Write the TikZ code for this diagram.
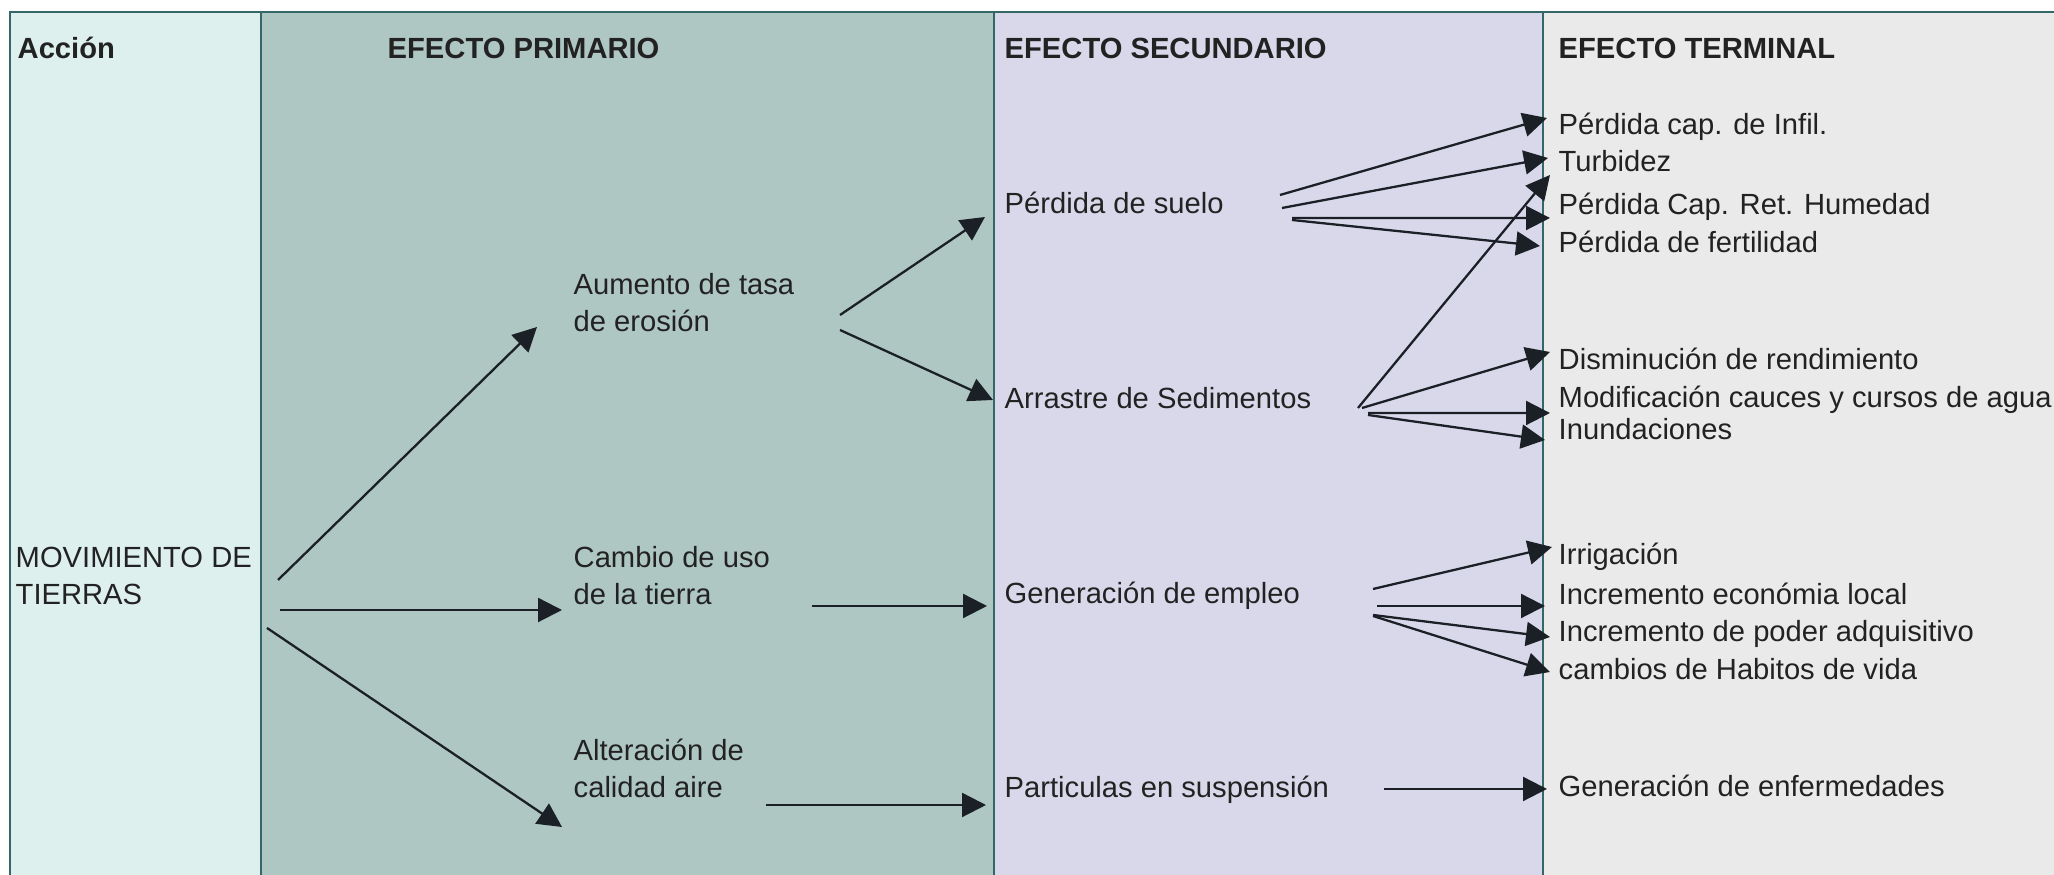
\documentclass[tikz,border=0pt]{standalone}
\usepackage{fontspec}
\setmainfont{Liberation Sans}
\usetikzlibrary{arrows.meta}
\definecolor{colaccion}{RGB}{221,240,238}
\definecolor{colprim}{RGB}{174,199,195}
\definecolor{colsec}{RGB}{216,216,234}
\definecolor{colterm}{RGB}{234,234,234}
\definecolor{framecol}{RGB}{52,104,104}
\definecolor{arrowcol}{RGB}{26,32,38}
\definecolor{textcol}{RGB}{34,34,34}
\begin{document}
\begin{tikzpicture}
  [txt/.style={anchor=base west,inner sep=0pt,align=left,text=textcol,font=\fontsize{8.3}{10.8}\selectfont},
   head/.style={txt,font=\fontsize{8.3}{10.8}\selectfont\bfseries},
   frame/.style={draw=framecol,line width=0.7pt},
   arr/.style={->,line width=0.65pt,draw=arrowcol,fill=arrowcol},
   >={Triangle[length=0.24cm,width=0.24cm]}]
  \useasboundingbox (0,0) rectangle (20.54,8.75);
  \fill[colaccion] (0.10,0) rectangle (2.61,8.63);
  \fill[colprim] (2.61,0) rectangle (9.94,8.63);
  \fill[colsec] (9.94,0) rectangle (15.43,8.63);
  \fill[colterm] (15.43,0) rectangle (20.54,8.63);
  \draw[frame] (0.10,0) -- (0.10,8.63) -- (20.54,8.63);
  \draw[frame] (2.61,0) -- (2.61,8.63);
  \draw[frame] (9.94,0) -- (9.94,8.63);
  \draw[frame] (15.43,0) -- (15.43,8.63);
  \node[head,name=accion] at (0.17,8.16) {Acción};
  \node[head,name=hprim] at (3.87,8.16) {EFECTO PRIMARIO};
  \node[head,name=hsec] at (10.04,8.16) {EFECTO SECUNDARIO};
  \node[head,name=hterm] at (15.58,8.16) {EFECTO TERMINAL};
  \node[txt,name=mov] at (0.15,2.70) {MOVIMIENTO DE\\TIERRAS};
  \node[txt,name=aumento] at (5.73,5.43) {Aumento de tasa\\de erosión};
  \node[txt,name=cambio] at (5.73,2.70) {Cambio de uso\\de la tierra};
  \node[txt,name=alteracion] at (5.73,0.77) {Alteración de\\calidad aire};
  \node[txt,name=suelo] at (10.04,6.61) {Pérdida de suelo};
  \node[txt,name=arrastre] at (10.04,4.66) {Arrastre de Sedimentos};
  \node[txt,name=empleo] at (10.04,2.71) {Generación de empleo};
  \node[txt,name=particulas] at (10.04,0.77) {Particulas en suspensión};
  \node[txt,name=infil] at (15.58,7.40) {Pérdida cap. de Infil.};
  \node[txt,name=turbidez] at (15.58,7.03) {Turbidez};
  \node[txt,name=humedad] at (15.58,6.60) {Pérdida Cap. Ret. Humedad};
  \node[txt,name=fertilidad] at (15.58,6.22) {Pérdida de fertilidad};
  \node[txt,name=rendimiento] at (15.58,5.05) {Disminución de rendimiento};
  \node[txt,name=cauces] at (15.58,4.67) {Modificación cauces y cursos de agua};
  \node[txt,name=inundaciones] at (15.58,4.35) {Inundaciones};
  \node[txt,name=irrigacion] at (15.58,3.10) {Irrigación};
  \node[txt,name=economia] at (15.58,2.70) {Incremento económia local};
  \node[txt,name=poder] at (15.58,2.33) {Incremento de poder adquisitivo};
  \node[txt,name=habitos] at (15.58,1.95) {cambios de Habitos de vida};
  \node[txt,name=enfermedades] at (15.58,0.78) {Generación de enfermedades};
  \draw[arr]([shift={(2.63,0.25)}]mov.base west)--([shift={(-0.36,0.05)}]aumento.base west);
  \draw[arr]([shift={(2.65,-0.05)}]mov.base west)--([shift={(-0.11,-0.05)}]cambio.base west);
  \draw[arr]([shift={(2.52,-0.23)}]mov.base west)--([shift={(-0.11,-0.29)}]alteracion.base west);
  \draw[arr]([shift={(2.67,0.17)}]aumento.base west)--([shift={(-0.19,-0.03)}]suelo.base west);
  \draw[arr]([shift={(2.67,0.02)}]aumento.base west)--([shift={(-0.11,0.09)}]arrastre.base west);
  \draw[arr]([shift={(2.39,-0.01)}]cambio.base west)--([shift={(-0.17,-0.02)}]empleo.base west);
  \draw[arr]([shift={(1.93,-0.07)}]alteracion.base west)--([shift={(-0.18,-0.07)}]particulas.base west);
  \draw[arr]([shift={(2.76,0.19)}]suelo.base west)--([shift={(-0.11,0.17)}]infil.base west);
  \draw[arr]([shift={(2.78,0.06)}]suelo.base west)--([shift={(-0.10,0.14)}]turbidez.base west);
  \draw[arr]([shift={(2.88,-0.04)}]suelo.base west)--([shift={(-0.08,-0.03)}]humedad.base west);
  \draw[arr]([shift={(2.88,-0.06)}]suelo.base west)--([shift={(-0.18,0.07)}]fertilidad.base west);
  \draw[arr]([shift={(3.54,0.01)}]arrastre.base west)--([shift={(-0.08,-0.03)}]turbidez.base west);
  \draw[arr]([shift={(3.58,0.01)}]arrastre.base west)--([shift={(-0.08,0.18)}]rendimiento.base west);
  \draw[arr]([shift={(3.64,-0.04)}]arrastre.base west)--([shift={(-0.08,-0.05)}]cauces.base west);
  \draw[arr]([shift={(3.64,-0.06)}]arrastre.base west)--([shift={(-0.13,0)}]inundaciones.base west);
  \draw[arr]([shift={(3.69,0.15)}]empleo.base west)--([shift={(-0.06,0.18)}]irrigacion.base west);
  \draw[arr]([shift={(3.73,-0.02)}]empleo.base west)--([shift={(-0.13,-0.01)}]economia.base west);
  \draw[arr]([shift={(3.69,-0.11)}]empleo.base west)--([shift={(-0.08,0.05)}]poder.base west);
  \draw[arr]([shift={(3.69,-0.12)}]empleo.base west)--([shift={(-0.08,0.08)}]habitos.base west);
  \draw[arr]([shift={(3.80,0.09)}]particulas.base west)--([shift={(-0.11,0.08)}]enfermedades.base west);
\end{tikzpicture}
\end{document}
